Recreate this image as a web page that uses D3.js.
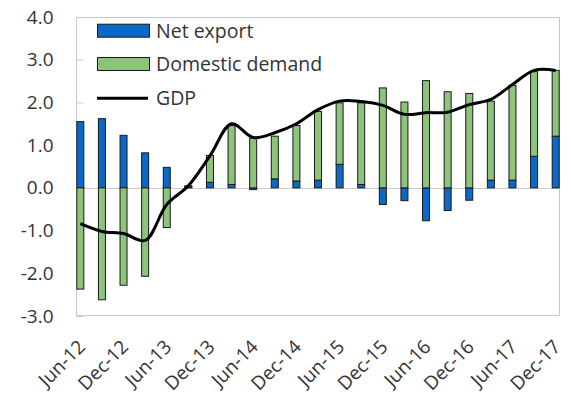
<!DOCTYPE html>
<html><head><meta charset="utf-8">
<script src="https://cdn.jsdelivr.net/npm/d3@7"></script>
<style>
html,body{margin:0;padding:0;background:#fff;}
svg text{font-family:"Open Sans","Noto Sans",sans-serif;fill:#333;}
</style></head>
<body><svg id="c" width="571" height="401"></svg>
<script>
const categories = ["Jun-12","Sep-12","Dec-12","Mar-13","Jun-13","Sep-13","Dec-13","Mar-14","Jun-14","Sep-14","Dec-14","Mar-15","Jun-15","Sep-15","Dec-15","Mar-16","Jun-16","Sep-16","Dec-16","Mar-17","Jun-17","Sep-17","Dec-17"];
const netExport = [1.55,1.62,1.23,0.82,0.48,0.02,0.13,0.08,-0.04,0.21,0.16,0.18,0.55,0.08,-0.39,-0.30,-0.77,-0.53,-0.29,0.18,0.18,0.74,1.21];
const domesticDemand = [-2.37,-2.62,-2.28,-2.07,-0.93,0.03,0.63,1.38,1.17,1.00,1.30,1.61,1.44,1.91,2.34,2.01,2.51,2.25,2.21,1.85,2.22,1.98,1.54];
const gdp = [-0.84,-1.02,-1.07,-1.23,-0.39,0.05,0.75,1.50,1.18,1.29,1.50,1.83,2.03,2.02,1.93,1.72,1.76,1.77,1.95,2.07,2.42,2.75,2.75];
const yTicks = [-3,-2,-1,0,1,2,3,4];
const xTickLabels = ["Jun-12","Dec-12","Jun-13","Dec-13","Jun-14","Dec-14","Jun-15","Dec-15","Jun-16","Dec-16","Jun-17","Dec-17"];
const seriesNames = ["Net export","Domestic demand","GDP"];

const L=76,R=560,T=17,B=316;
const svg=d3.select("#c");
const x=d3.scalePoint().domain(categories).range([L,R]).padding(0.2);
const y=d3.scaleLinear().domain([-3,4]).range([B,T]);
const colors={ne:"#0A68C8",dd:"#8CC47A"};

// frame
svg.append("rect").attr("x",L+0.5).attr("y",T+0.5).attr("width",R-L-1).attr("height",B-T-1)
  .attr("fill","none").attr("stroke","#c8c8c8").attr("stroke-width",1);

// y axis
const yAxis=d3.axisLeft(y).tickValues(yTicks).tickFormat(v=>v.toFixed(1)).tickSize(-7).tickPadding(23);
const ga=svg.append("g").attr("transform",`translate(${L+0.5},0)`).call(yAxis);
ga.select(".domain").remove();
ga.selectAll(".tick line").attr("stroke","#c8c8c8");
ga.selectAll(".tick text").attr("font-size",19).style("font-family",'"Open Sans",sans-serif').attr("fill","#333");

// zero line
svg.append("line").attr("x1",L).attr("x2",R).attr("y1",Math.round(y(0))+0.5).attr("y2",Math.round(y(0))+0.5)
  .attr("stroke","#c8c8c8").attr("stroke-width",1);

// stacked bars
const rows=categories.map((c,i)=>({cat:c,ne:netExport[i],dd:domesticDemand[i]}));
const stack=d3.stack().keys(["ne","dd"]).offset(d3.stackOffsetDiverging)(rows);
const bw=7;
stack.forEach(s=>{
  svg.append("g").selectAll("rect").data(s).join("rect")
    .attr("x",d=>x(d.data.cat)-bw/2)
    .attr("y",d=>y(Math.max(d[0],d[1])))
    .attr("width",bw)
    .attr("height",d=>Math.abs(y(d[0])-y(d[1])))
    .attr("fill",colors[s.key]).attr("stroke","#1a1a1a").attr("stroke-width",1);
});

// GDP line
const line=d3.line().x((d,i)=>x(categories[i])).y(d=>y(d)).curve(d3.curveCatmullRom.alpha(0.5));
svg.append("path").datum(gdp).attr("d",line).attr("fill","none").attr("stroke","#000").attr("stroke-width",3).attr("stroke-linejoin","round");

// x labels
svg.append("g").selectAll("text").data(xTickLabels).join("text")
  .attr("transform",d=>`translate(${x(d)+6},348) rotate(-45)`)
  .attr("text-anchor","end").attr("font-size",19).text(d=>d);

// legend
const lg=svg.append("g");
const ly=[30.7,64,98.3];
lg.append("rect").attr("x",97.5).attr("y",ly[0]-6.5).attr("width",52).attr("height",13).attr("fill",colors.ne).attr("stroke","#1a1a1a");
lg.append("rect").attr("x",97.5).attr("y",ly[1]-6.5).attr("width",52).attr("height",13).attr("fill",colors.dd).attr("stroke","#1a1a1a");
lg.append("line").attr("x1",97).attr("x2",148).attr("y1",ly[2]).attr("y2",ly[2]).attr("stroke","#000").attr("stroke-width",3);
seriesNames.forEach((n,i)=>{
  lg.append("text").attr("x",156).attr("y",ly[i]).attr("dy","0.35em").attr("font-size",19.5).text(n);
});
</script></body></html>
